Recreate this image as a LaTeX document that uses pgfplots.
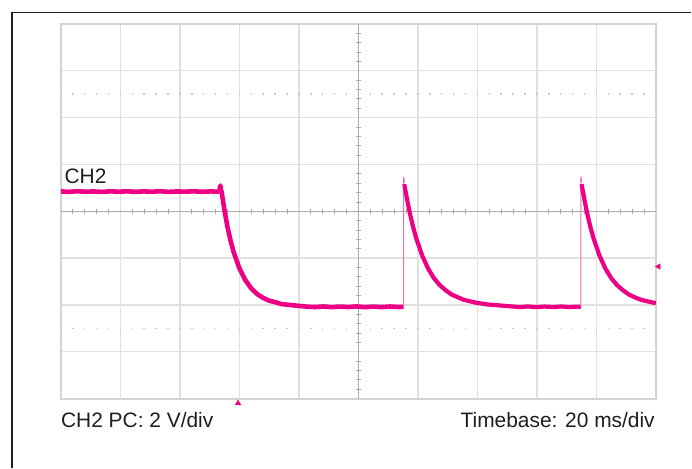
\documentclass[border=0pt]{standalone}
\usepackage{pgfplots}
\pgfplotsset{compat=1.18}
\usepackage{fontspec}
\setmainfont{Liberation Sans}
\definecolor{trace}{RGB}{238,0,132}
\definecolor{tracethin}{RGB}{236,110,175}
\definecolor{gridgray}{RGB}{224,224,224}
\definecolor{framegray}{RGB}{212,212,212}
\definecolor{crossgray}{RGB}{170,170,170}
\definecolor{dotgray}{RGB}{200,200,200}
\definecolor{txt}{RGB}{30,30,30}
\begin{document}
\begin{tikzpicture}[x=1bp,y=1bp]
\path (0,0) rectangle (692,468);
\draw[txt, line width=1.3bp] (12,0) -- (12,455.5) -- (692,455.5);
\begin{axis}[
  at={(61bp,69bp)}, anchor=south west,
  width=595.5bp, height=375bp, scale only axis,
  xmin=0, xmax=10, ymin=-4, ymax=4,
  xtick={0,1,...,10}, ytick={-4,-3,...,4},
  xticklabels={}, yticklabels={},
  tick style={draw=none},
  grid=major,
  grid style={color=gridgray, line width=1.3bp},
  axis line style={color=framegray, line width=2.2bp},
  clip=false,
]
% dotted reference lines
\draw[dotgray, line width=1.5bp, dash pattern=on 1.5bp off 10.41bp, dash phase=0.75bp] (axis cs:0,2.5) -- (axis cs:10,2.5);
\draw[dotgray, line width=1.5bp, dash pattern=on 1.5bp off 10.41bp, dash phase=0.75bp] (axis cs:0,-2.5) -- (axis cs:10,-2.5);
% center crosshair
\draw[crossgray, line width=0.8bp] (axis cs:0,0) -- (axis cs:10,0);
\draw[crossgray, line width=0.8bp] (axis cs:5,-4) -- (axis cs:5,4);
\pgfplotsinvokeforeach{0.2,0.4,0.6,0.8,1.2,1.4,1.6,1.8,2.2,2.4,2.6,2.8,3.2,3.4,3.6,3.8,4.2,4.4,4.6,4.8,5.2,5.4,5.6,5.8,6.2,6.4,6.6,6.8,7.2,7.4,7.6,7.8,8.2,8.4,8.6,8.8,9.2,9.4,9.6,9.8}{
  \draw[crossgray, line width=0.8bp] ([yshift=-2.5bp]axis cs:#1,0) -- ([yshift=2.5bp]axis cs:#1,0);
}
\pgfplotsinvokeforeach{-3.8,-3.6,-3.4,-3.2,-2.8,-2.6,-2.4,-2.2,-1.8,-1.6,-1.4,-1.2,-0.8,-0.6,-0.4,-0.2,0.2,0.4,0.6,0.8,1.2,1.4,1.6,1.8,2.2,2.4,2.6,2.8,3.2,3.4,3.6,3.8}{
  \draw[crossgray, line width=0.8bp] ([xshift=-2.5bp]axis cs:5,#1) -- ([xshift=2.5bp]axis cs:5,#1);
}
% trace: high level, first fall, low level
\addplot[trace, line width=4.6bp, line join=round, mark=none] coordinates {
(0,0.425) (0.13,0.415) (0.27,0.428) (0.41,0.418) (0.55,0.424) (0.69,0.414) (0.83,0.426) (0.97,0.419)
(1.11,0.427) (1.25,0.416) (1.39,0.425) (1.53,0.418) (1.67,0.428) (1.81,0.415) (1.95,0.424) (2.09,0.419)
(2.23,0.427) (2.37,0.416) (2.51,0.425) (2.63,0.419) (2.66,0.43) (2.68,0.55) (2.69,0.45) (2.70,0.42)
(2.75,0.01) (2.80,-0.34) (2.85,-0.62) (2.90,-0.86) (3.00,-1.22) (3.10,-1.47) (3.20,-1.65) (3.30,-1.77)
(3.40,-1.85) (3.50,-1.91) (3.60,-1.94) (3.70,-1.98) (3.85,-2.00) (4.00,-2.02)
(4.13,-2.035) (4.27,-2.045) (4.41,-2.032) (4.55,-2.046) (4.69,-2.034) (4.83,-2.044) (4.97,-2.031)
(5.11,-2.046) (5.25,-2.035) (5.39,-2.045) (5.53,-2.033) (5.67,-2.044) (5.76,-2.04)
};
% first rising edge (thin)
\addplot[tracethin, line width=1bp, mark=none] coordinates {(5.76,-2.04) (5.76,0.74) (5.775,0.62)};
% second decay and low level
\addplot[trace, line width=4.2bp, line join=round, mark=none] coordinates {
(5.77,0.58) (5.82,0.24) (5.87,-0.07) (5.92,-0.34) (5.97,-0.57) (6.07,-0.94) (6.17,-1.22) (6.27,-1.43)
(6.37,-1.58) (6.47,-1.69) (6.57,-1.78) (6.77,-1.89) (6.97,-1.95) (7.17,-1.99) (7.37,-2.01) (7.57,-2.03)
(7.71,-2.045) (7.85,-2.032) (7.99,-2.046) (8.13,-2.034) (8.27,-2.044) (8.41,-2.033) (8.55,-2.045)
(8.69,-2.035) (8.74,-2.04)
};
% second rising edge (thin)
\addplot[tracethin, line width=1bp, mark=none] coordinates {(8.74,-2.04) (8.74,0.74) (8.755,0.62)};
% third decay
\addplot[trace, line width=4.2bp, line join=round, mark=none] coordinates {
(8.75,0.58) (8.80,0.24) (8.85,-0.07) (8.90,-0.34) (8.95,-0.57) (9.05,-0.94) (9.15,-1.22) (9.25,-1.43)
(9.35,-1.58) (9.45,-1.69) (9.55,-1.78) (9.65,-1.84) (9.75,-1.89) (9.85,-1.92) (9.95,-1.95) (10.0,-1.96)
};
% markers
\addplot[only marks, mark=triangle*, mark size=3.2bp, color=trace, mark options={rotate=90}] coordinates {(10.045,-1.18)};
\addplot[only marks, mark=triangle*, mark size=3.2bp, color=trace] coordinates {(2.977,-4.10)};
\end{axis}
\node[anchor=base west, inner sep=0pt, font=\fontsize{21}{25}\selectfont, text=txt] at (64.5,284.7) {CH2};
\node[anchor=base west, inner sep=0pt, font=\fontsize{21}{25}\selectfont, text=txt] at (61,39.7) {CH2 PC: 2 V/div};
\node[anchor=base east, inner sep=0pt, font=\fontsize{21}{25}\selectfont, text=txt] at (655.5,39.7) {Timebase: 20 ms/div};
\end{tikzpicture}
\end{document}
